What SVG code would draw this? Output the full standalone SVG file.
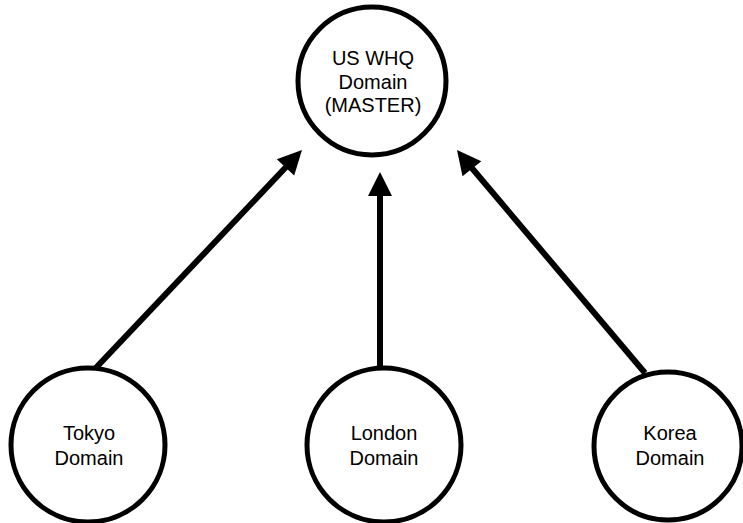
<svg xmlns="http://www.w3.org/2000/svg" width="743" height="523" viewBox="0 0 743 523">
  <style>
    .node { fill: #ffffff; stroke: #000000; stroke-width: 5; }
    .label { font-family: "Liberation Sans", Arial, sans-serif; font-size: 20px; fill: #000000; text-anchor: middle; }
    .edge { stroke: #000000; stroke-width: 6; fill: none; }
    .head { fill: #000000; stroke: none; }
  </style>
  <rect width="743" height="523" fill="#ffffff"/>
  <g id="connectors">
    <line class="edge" x1="91" y1="373" x2="287" y2="166"/>
    <polygon class="head" points="302,150 294.2,175.6 276.8,159.2"/>
    <line class="edge" x1="380" y1="378" x2="380" y2="194"/>
    <polygon class="head" points="380,172 392,196 368,196"/>
    <line class="edge" x1="645" y1="373" x2="471" y2="167"/>
    <polygon class="head" points="457,150 481.3,161.3 462.5,176.3"/>
  </g>
  <g id="us-whq">
    <circle class="node" cx="372" cy="81" r="74"/>
    <text class="label" x="373" y="65">US WHQ</text>
    <text class="label" x="373" y="89">Domain</text>
    <text class="label" x="373" y="112">(MASTER)</text>
  </g>
  <g id="tokyo">
    <circle class="node" cx="88" cy="445" r="77"/>
    <text class="label" x="89" y="440">Tokyo</text>
    <text class="label" x="89" y="465">Domain</text>
  </g>
  <g id="london">
    <circle class="node" cx="384" cy="445" r="77"/>
    <text class="label" x="384" y="440">London</text>
    <text class="label" x="384" y="465">Domain</text>
  </g>
  <g id="korea">
    <circle class="node" cx="668" cy="446" r="74"/>
    <text class="label" x="670" y="440">Korea</text>
    <text class="label" x="670" y="465">Domain</text>
  </g>
</svg>
